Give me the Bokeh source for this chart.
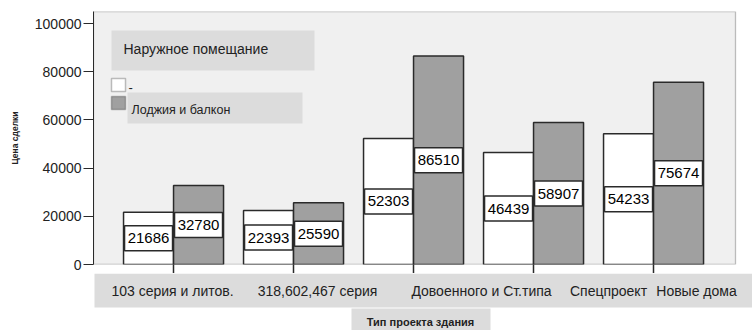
from bokeh.plotting import figure
from bokeh.layouts import column
from bokeh.models import (ColumnDataSource, Range1d, FixedTicker, Label, BoxAnnotation,
                          NumeralTickFormatter)
from bokeh.transform import dodge
from bokeh.core.properties import value
from bokeh.embed import file_html
from bokeh.resources import INLINE

# ---- data ----
categories = ["103 серия и литов.", "318,602,467 серия", "Довоенного и Ст.типа",
              "Спецпроект", "Новые дома"]
no_outdoor = [21686, 22393, 52303, 46439, 54233]
loggia_balcony = [32780, 25590, 86510, 58907, 75674]
series_names = ["-", "Лоджия и балкон"]
y_ticks = [0, 20000, 40000, 60000, 80000, 100000]
legend_title = "Наружное помещание"
x_title = "Тип проекта здания"
y_title = "Цена сделки"

FONT = "Liberation Sans"
TXT = "#222222"
LINE = "#2a2a2a"
GRAY_BAR = "#a0a0a0"
BAND = "#dcdcdc"
PLOT_BG = "#f0f0f0"

idx = list(range(len(categories)))
src = ColumnDataSource(dict(
    x=idx,
    a=no_outdoor, b=loggia_balcony,
    a_mid=[v / 2 for v in no_outdoor], b_mid=[v / 2 for v in loggia_balcony],
    a_txt=[str(v) for v in no_outdoor], b_txt=[str(v) for v in loggia_balcony],
))

# ---------------- main chart ----------------
# frame spans window x 93..752 (the shaded plot area itself is drawn 93..735)
p = figure(width=752, height=273, output_backend="svg", toolbar_location=None,
           x_range=Range1d(-0.667, -0.667 + 659 / 120),
           y_range=Range1d(0, 105000),
           min_border_left=93, min_border_right=0, min_border_top=11, min_border_bottom=9)
p.background_fill_color = "white"
p.border_fill_color = "white"
p.outline_line_color = None
p.grid.visible = False

# frame-relative screen coordinates (frame left/bottom in window: 93, 264)
def fx(wx):
    return wx - 93

def fy(wy):
    return 264 - wy

def sbox(fig, l, r, t, b, **kw):
    fig.add_layout(BoxAnnotation(left=l, right=r, top=t, bottom=b,
                                 left_units="screen", right_units="screen",
                                 top_units="screen", bottom_units="screen", **kw))

# shaded plot area with its border
sbox(p, fx(93), fx(735), fy(11), fy(264), fill_color=PLOT_BG, fill_alpha=1,
     line_color="#333333", line_width=1.3, level="underlay")
# legend backgrounds
sbox(p, fx(111), fx(314), fy(30), fy(70), fill_color=BAND, fill_alpha=1, line_alpha=0,
     level="underlay")
sbox(p, fx(127), fx(302), fy(92), fy(123), fill_color=BAND, fill_alpha=1, line_alpha=0,
     level="underlay")

bw = 0.4167
xa = dodge("x", -bw / 2, range=p.x_range)
xb = dodge("x", bw / 2, range=p.x_range)

r1 = p.vbar(x=xa, top="a", width=bw, source=src, fill_color="white",
            line_color=LINE, line_width=1.5)
r2 = p.vbar(x=xb, top="b", width=bw, source=src, fill_color=GRAY_BAR,
            line_color=LINE, line_width=1.5)

for xx, ycol, tcol in ((xa, "a_mid", "a_txt"), (xb, "b_mid", "b_txt")):
    p.rect(x=xx, y=ycol, width=0.4, height=25, height_units="screen", source=src,
           fill_color="white", line_color=LINE, line_width=1.5)
    p.text(x=xx, y=ycol, text=tcol, source=src, text_align="center", text_baseline="middle",
           text_font=value(FONT), text_font_size="15px", text_color="black")

# axes
p.yaxis.ticker = FixedTicker(ticks=y_ticks)
p.yaxis.formatter = NumeralTickFormatter(format="0")
p.yaxis.major_tick_out = 10
p.yaxis.major_tick_in = 0
p.yaxis.minor_tick_line_color = None
p.yaxis.axis_line_color = LINE
p.yaxis.major_tick_line_color = LINE
p.yaxis.major_label_text_font = FONT
p.yaxis.major_label_text_font_size = "14px"
p.yaxis.major_label_text_color = TXT
p.yaxis.major_label_standoff = 2
p.yaxis.axis_label = y_title
p.yaxis.axis_label_text_font = FONT
p.yaxis.axis_label_text_font_size = "8.5px"
p.yaxis.axis_label_text_font_style = "bold"
p.yaxis.axis_label_text_color = TXT
p.yaxis.axis_label_standoff = 12

# x axis: only (unlabelled) tick marks at the group centres
p.xaxis.ticker = FixedTicker(ticks=[], minor_ticks=idx)
p.xaxis.major_label_standoff = 0
p.xaxis.major_tick_out = 0
p.xaxis.major_tick_in = 0
p.xaxis.minor_tick_out = 9
p.xaxis.minor_tick_in = 0
p.xaxis.minor_tick_line_color = LINE
p.xaxis.minor_tick_line_width = 1.5
p.xaxis.axis_line_color = None

# legend (drawn by hand, SPSS style)
p.add_layout(Label(x=fx(123), y=fy(48), x_units="screen", y_units="screen", text=legend_title,
                   text_align="left", text_baseline="middle", text_font=FONT,
                   text_font_size="14px", text_color=TXT))
sbox(p, fx(111), fx(125), fy(78), fy(91), fill_color="white", fill_alpha=1,
     line_color=LINE, line_width=1.5)
sbox(p, fx(111), fx(125), fy(96), fy(109), fill_color=GRAY_BAR, fill_alpha=1,
     line_color=LINE, line_width=1.5)
p.add_layout(Label(x=fx(128), y=fy(87), x_units="screen", y_units="screen",
                   text=series_names[0], text_align="left", text_baseline="middle",
                   text_font=FONT, text_font_size="13px", text_color=TXT))
p.add_layout(Label(x=fx(131), y=fy(109), x_units="screen", y_units="screen",
                   text=series_names[1], text_align="left", text_baseline="middle",
                   text_font=FONT, text_font_size="12.5px", text_color=TXT))

# ---------------- strip below the axis (category names + axis title) ----------------
# its frame is aligned with the main frame: window x 93..752, y 273..330
q = figure(width=752, height=57, output_backend="svg", toolbar_location=None,
           x_range=Range1d(0, 659), y_range=Range1d(0, 57),
           x_axis_location=None, y_axis_location=None,
           min_border_left=93, min_border_right=0, min_border_top=0, min_border_bottom=0)
q.background_fill_color = "white"
q.border_fill_color = "white"
q.outline_line_color = None
q.grid.visible = False

def gx(wx):
    return wx - 93

def gy(wy):
    return 330 - wy

sbox(q, gx(94), gx(752), gy(273), gy(307), fill_color=BAND, fill_alpha=1, line_alpha=0,
     level="underlay")
sbox(q, gx(351), gx(490), gy(308), gy(330), fill_color=BAND, fill_alpha=1, line_alpha=0,
     level="underlay")

label_centers = [172, 317, 481, 608, 696]
for cat, cx in zip(categories, label_centers):
    q.add_layout(Label(x=gx(cx), y=gy(290), x_units="screen", y_units="screen", text=cat,
                       text_align="center", text_baseline="middle", text_font=FONT,
                       text_font_size="14px", text_color=TXT))

q.add_layout(Label(x=gx(420), y=gy(321), x_units="screen", y_units="screen", text=x_title,
                   text_align="center", text_baseline="middle", text_font=FONT,
                   text_font_size="11px", text_font_style="bold", text_color=TXT))

layout = column(p, q, spacing=0)
open("out.html", "w").write(file_html(layout, INLINE))
